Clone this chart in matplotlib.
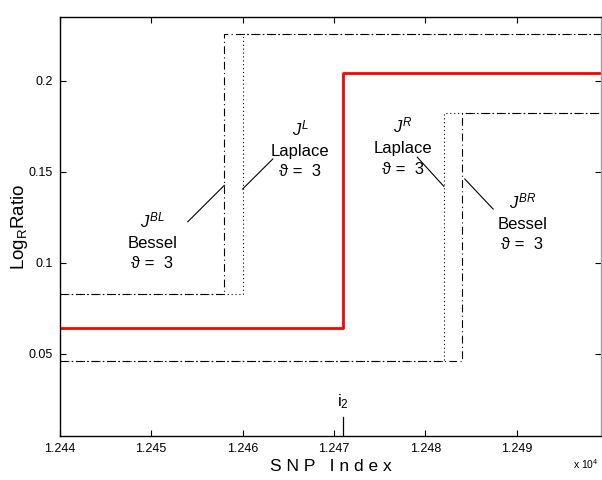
"""
plot.py — step-fit comparison around breakpoint i2 (LogR ratio vs SNP index)
"""

import matplotlib
matplotlib.use('Agg')
import matplotlib.pyplot as plt
from matplotlib.ticker import FuncFormatter

plt.rcParams['font.family'] = ['Liberation Sans', 'DejaVu Sans']
plt.rcParams['mathtext.fontset'] = 'custom'
plt.rcParams['mathtext.rm'] = 'Liberation Sans'
plt.rcParams['mathtext.it'] = 'Liberation Sans:italic'

# ── data ─────────────────────────────────────────────────────────────────────
X_RANGE = [12440, 12499.2]
X_TICKS = [12440, 12450, 12460, 12470, 12480, 12490]
Y_TICKS = [0.05, 0.1, 0.15, 0.2]
Y_RANGE = [0.005, 0.235]

i2 = 12471

# red solid fit: level before / after breakpoint
fit_break = 12471
fit_levels = [0.0643, 0.2044]

# left pair (upper step)
bl_break = 12458      # J^BL Bessel
l_break = 12460       # J^L Laplace
left_levels = [0.0826, 0.2258]

# right pair (lower step)
r_break = 12482       # J^R Laplace
br_break = 12484      # J^BR Bessel
right_levels = [0.0458, 0.1824]

# annotation text centres and leader line ends (data coords)
labels = ['$J^{BL}$\nBessel\nϑ =  3',
          '$J^{L}$\nLaplace\nϑ =  3',
          '$J^{R}$\nLaplace\nϑ =  3',
          '$J^{BR}$\nBessel\nϑ =  3']
label_xy = [(12450.1, 0.1120), (12466.3, 0.1625),
            (12477.5, 0.1640), (12490.6, 0.1225)]
line_from = [(12454.0, 0.1225), (12463.3, 0.1570),
             (12479.1, 0.1580), (12484.3, 0.1460)]
line_to = [(12458.0, 0.1425), (12460.0, 0.1405),
           (12482.0, 0.1420), (12487.4, 0.1295)]


def step_xy(brk, levels):
    return [X_RANGE[0], brk, X_RANGE[1]], [levels[0], levels[1], levels[1]]


fig = plt.figure(figsize=(6.02, 4.8), dpi=100)
ax = fig.add_axes([0.0992, 0.0923, 0.8992, 0.8723])

dashdot = dict(color='black', linewidth=0.8, dashes=(7, 3, 1, 3))
dotted = dict(color='black', linewidth=0.8, dashes=(1, 2.5))

ax.step(*step_xy(bl_break, left_levels), where='post', **dashdot)
ax.step(*step_xy(l_break, left_levels), where='post', **dotted)
ax.step(*step_xy(r_break, right_levels), where='post', **dotted)
ax.step(*step_xy(br_break, right_levels), where='post', **dashdot)
ax.step(*step_xy(fit_break, fit_levels), where='post',
        color='#ff0000', linewidth=2)

for txt, xy in zip(labels, label_xy):
    ax.text(xy[0], xy[1], txt, ha='center', va='center',
            multialignment='center', fontsize=12, linespacing=1.45)

for a, b in zip(line_from, line_to):
    ax.plot([a[0], b[0]], [a[1], b[1]], color='black', linewidth=0.8)

# i2 marker on the x axis
ax.axvline(i2, ymin=0, ymax=0.045, color='black', linewidth=0.9)
ax.text(i2, 0.0185, r'$\mathrm{i}_2$', ha='center', va='bottom', fontsize=12)

ax.set_xlim(*X_RANGE)
ax.set_ylim(*Y_RANGE)
ax.set_xticks(X_TICKS)
ax.set_yticks(Y_TICKS)
ax.xaxis.set_major_formatter(FuncFormatter(lambda v, p: f'{v / 1e4:.3f}'))
ax.yaxis.set_major_formatter(FuncFormatter(lambda v, p: f'{v:g}'))
ax.tick_params(direction='in', length=4, width=0.8, labelsize=9,
               top=True, right=True, pad=5)
for s in ax.spines.values():
    s.set_linewidth(1.0)
ax.spines['right'].set_color('#a0a0a0')

ax.set_xlabel('S N P   I n d e x', fontsize=12.5, labelpad=3)
ax.set_ylabel('Log$_{\\mathrm{R}}$Ratio', fontsize=13.5)
ax.yaxis.set_label_coords(-0.055, 0.5)
fig.text(0.952, 0.018, 'x 10$^{4}$', fontsize=7.5, ha='left', va='bottom')

fig.savefig('out.png', dpi=100)
